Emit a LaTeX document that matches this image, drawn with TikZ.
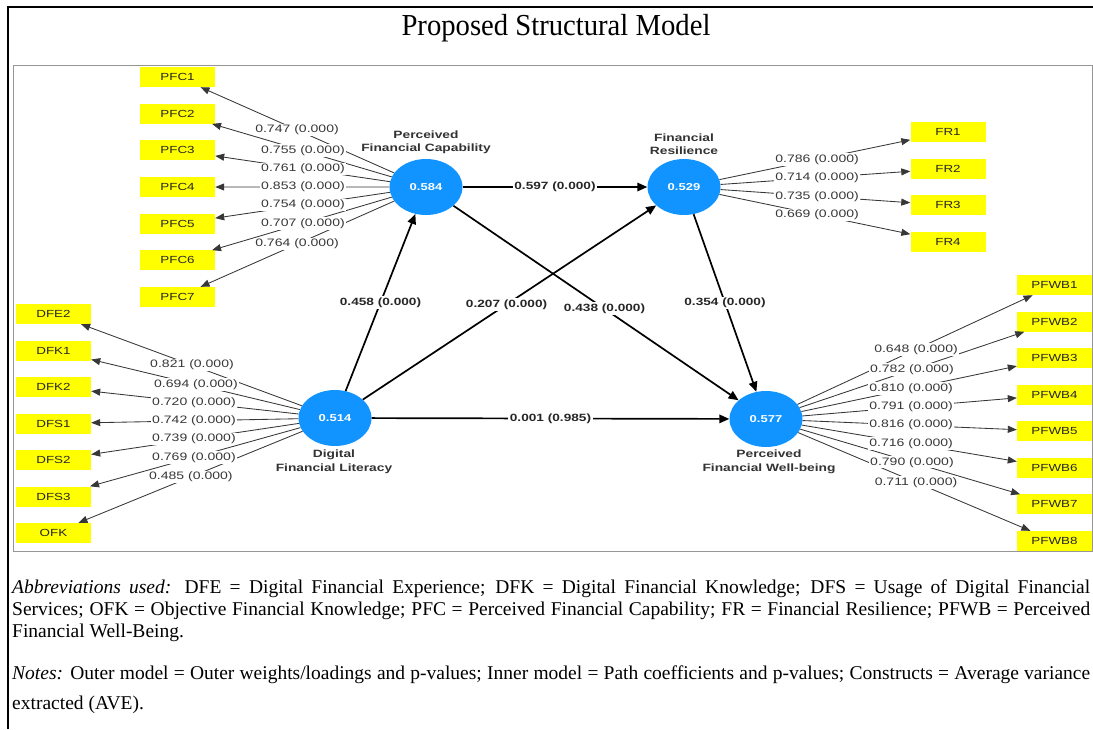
\documentclass[tikz,border=0pt]{standalone}
\usepackage{fontspec}
\setmainfont{Liberation Serif}
\newfontfamily\tfont[FakeStretch=0.94]{Liberation Serif}
\newfontfamily\dfont[FakeStretch=1.3]{Liberation Sans}
\usetikzlibrary{arrows.meta,calc,shapes.geometric}
\definecolor{cyel}{RGB}{255,255,0}
\definecolor{cblue}{RGB}{17,148,255}
\definecolor{cgray}{RGB}{55,55,55}
\definecolor{cframe}{RGB}{150,150,150}
\begin{document}
\begin{tikzpicture}[x=1pt,y=-1pt,
  ind/.style={fill=cyel, minimum width=75pt, minimum height=20pt, inner sep=0pt, text=black!85, font=\dfont\fontsize{10.3}{11}\selectfont},
  lv/.style={ellipse, fill=cblue, minimum width=73pt, minimum height=56pt, inner sep=0pt, text=white, font=\dfont\bfseries\fontsize{10}{11}\selectfont},
  ld/.style={draw=cgray, line width=0.85pt, -{Triangle[length=9pt,width=7pt]}},
  pth/.style={draw=black, line width=1.7pt, -{Triangle[length=10pt,width=8.5pt]}},
  lbl/.style={fill=white, inner sep=1.2pt, text=cgray, font=\dfont\fontsize{10.8}{11}\selectfont},
  plbl/.style={fill=white, inner sep=1.5pt, text=black!85, font=\dfont\bfseries\fontsize{10.5}{11}\selectfont},
  cname/.style={align=center, inner sep=0pt, text=black!80, font=\dfont\bfseries\fontsize{10.6}{13.5}\selectfont},
  txt/.style={anchor=base west, inner sep=0pt, font=\fontsize{19.5}{22}\selectfont}
]
\useasboundingbox (0,0) rectangle (1093,729);
% frames
\draw[line width=1.5pt] (8,729) -- (8,7) -- (1093,7);
\draw[cframe, line width=1pt] (13.5,65) rectangle (1092,551);
% title
\node[anchor=base, inner sep=0pt, font=\tfont\fontsize{30.5}{33}\selectfont] (title) at (556,35) {Proposed Structural Model};

% latent variables
\node[lv] (pfc) at (426,187) {0.584};
\node[lv] (fr) at (684,187) {0.529};
\node[lv] (dfl) at (335,418) {0.514};
\node[lv] (pfwb) at (766,419) {0.577};
\node[cname] (npfc) at (426,142.5) {Perceived\\Financial Capability};
\node[cname] (nfr) at (684,144) {Financial\\Resilience};
\node[cname] (ndfl) at (334,462) {Digital\\Financial Literacy};
\node[cname] (npfwb) at (769,462) {Perceived\\Financial Well-being};

% indicators
\foreach \n [count=\i from 0] in {PFC1,PFC2,PFC3,PFC4,PFC5,PFC6,PFC7}
  \node[ind] (\n) at (177.5,{77+36.67*\i}) {\n};
\foreach \n [count=\i from 0] in {FR1,FR2,FR3,FR4}
  \node[ind] (\n) at (948,{132+36.67*\i}) {\n};
\foreach \n [count=\i from 0] in {DFE2,DFK1,DFK2,DFS1,DFS2,DFS3,OFK}
  \node[ind] (\n) at (53.5,{314+36.5*\i}) {\n};
\foreach \n [count=\i from 0] in {PFWB1,PFWB2,PFWB3,PFWB4,PFWB5,PFWB6,PFWB7,PFWB8}
  \node[ind] (\n) at (1054.5,{285+36.57*\i}) {\n};

% outer loadings
\foreach \n in {PFC1,PFC2,PFC3,PFC4,PFC5,PFC6,PFC7} \draw[ld] (pfc) -- (\n);
\foreach \n in {FR1,FR2,FR3,FR4} \draw[ld] (fr) -- (\n);
\foreach \n in {DFE2,DFK1,DFK2,DFS1,DFS2,DFS3,OFK} \draw[ld] (dfl) -- (\n);
\foreach \n in {PFWB1,PFWB2,PFWB3,PFWB4,PFWB5,PFWB6,PFWB7,PFWB8} \draw[ld] (pfwb) -- (\n);

% loading labels
\foreach \n/\t/\v in {PFC1/0.519/0.747,PFC2/0.495/0.755,PFC3/0.495/0.761,PFC4/0.495/0.853,PFC5/0.495/0.754,PFC6/0.495/0.707,PFC7/0.519/0.764}{
  \node[lbl] (l\n) at ($(pfc.center)!\t!(\n.center)$) {\v\ (0.000)};
}
\foreach \n/\t/\v in {FR1/0.504/0.786,FR2/0.504/0.714,FR3/0.504/0.735,FR4/0.504/0.669}{
  \node[lbl] (l\n) at ($(fr.center)!\t!(\n.center)$) {\v\ (0.000)};
}
\foreach \n/\t/\v in {DFE2/0.508/0.821,DFK1/0.494/0.694,DFK2/0.501/0.720,DFS1/0.501/0.742,DFS2/0.501/0.739,DFS3/0.501/0.769,OFK/0.512/0.485}{
  \node[lbl] (l\n) at ($(dfl.center)!\t!(\n.center)$) {\v\ (0.000)};
}
\foreach \n/\t/\v in {PFWB1/0.52/0.648,PFWB2/0.506/0.782,PFWB3/0.503/0.810,PFWB4/0.503/0.791,PFWB5/0.503/0.816,PFWB6/0.503/0.716,PFWB7/0.506/0.790,PFWB8/0.52/0.711}{
  \node[lbl] (l\n) at ($(pfwb.center)!\t!(\n.center)$) {\v\ (0.000)};
}

% inner paths
\draw[pth] (pfc) -- node[plbl] (p1) {0.597 (0.000)} (fr);
\draw[pth] (dfl) -- node[plbl] (p2) {0.458 (0.000)} (pfc);
\draw[pth] (dfl) -- node[plbl, pos=0.49] (p3) {0.207 (0.000)} (fr);
\draw[pth] (pfc) -- node[plbl, pos=0.53] (p4) {0.438 (0.000)} (pfwb);
\draw[pth] (fr) -- node[plbl] (p5) {0.354 (0.000)} (pfwb);
\draw[pth] (dfl) -- node[plbl] (p6) {0.001 (0.985)} (pfwb);

% notes
\node[txt] (ab1) at (12,593) {\makebox[1078pt][s]{\textit{Abbreviations used:} DFE = Digital Financial Experience; DFK = Digital Financial Knowledge; DFS = Usage of Digital Financial}};
\node[txt] (ab2) at (12,615) {\makebox[1078pt][s]{Services; OFK = Objective Financial Knowledge; PFC = Perceived Financial Capability; FR = Financial Resilience; PFWB = Perceived}};
\node[txt] (ab3) at (12,637) {Financial Well-Being.};
\node[txt] (nt1) at (12,679) {\makebox[1078pt][s]{\textit{Notes:} Outer model = Outer weights/loadings and p-values; Inner model = Path coefficients and p-values; Constructs = Average variance}};
\node[txt] (nt2) at (12,709) {extracted (AVE).};
\end{tikzpicture}
\end{document}
